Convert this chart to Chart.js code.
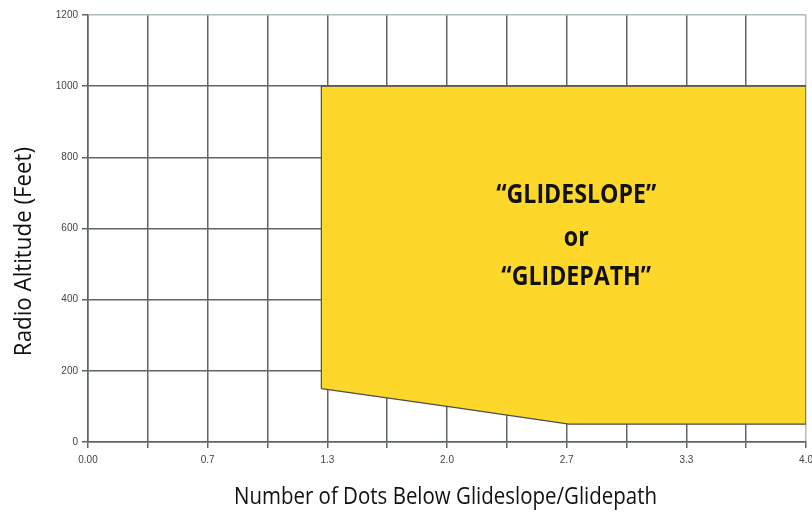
<!DOCTYPE html>
<html>
<head>
<meta charset="utf-8">
<script src="https://cdn.jsdelivr.net/npm/chart.js@4/dist/chart.umd.min.js"></script>
<style>
  html, body { margin: 0; padding: 0; background: #ffffff; }
  #wrap { width: 812px; height: 512px; }
</style>
</head>
<body>
<div id="wrap"><canvas id="chart" width="812" height="512"></canvas></div>
<script>
// Axis tick labels
const xTickLabels = ['0.00', '0.7', '1.3', '2.0', '2.7', '3.3', '4.0'];
const yTickValues = [0, 200, 400, 600, 800, 1000, 1200];

// Axis titles
const xTitle = 'Number of Dots Below Glideslope/Glidepath';
const yTitle = 'Radio Altitude (Feet)';

// Alert envelope outline (dots below glideslope, radio altitude in feet)
const envelopeDots = [1.3, 1.3, 4.0, 4.0, 2.68, 2.0, 1.3];
const envelopeFeet = [150, 1000, 1000, 50, 50, 100, 150];

// Alert message shown inside the envelope
const alertLines = ['\u201CGLIDESLOPE\u201D', 'or', '\u201CGLIDEPATH\u201D'];
const alertDots = 2.72;
const alertFeet = [672, 551, 441];

const GRID = '#5f6666';
const EDGE = '#aebcc0';

const envelopePoints = envelopeDots.map((x, i) => ({ x: x, y: envelopeFeet[i] }));

// Draws text squeezed horizontally (condensed face look)
function drawCondensed(ctx, text, x, y, squeeze) {
  ctx.save();
  ctx.translate(x, y);
  ctx.scale(squeeze, 1);
  ctx.fillText(text, 0, 0);
  ctx.restore();
}

const textLayer = {
  id: 'textLayer',
  afterDatasetsDraw(chart) {
    const { ctx, scales, chartArea } = chart;
    ctx.save();
    ctx.fillStyle = '#111111';
    ctx.textAlign = 'center';
    ctx.textBaseline = 'alphabetic';

    // message in the envelope
    ctx.font = 'bold 26px "Open Sans", sans-serif';
    const px = scales.x.getPixelForValue(alertDots);
    alertLines.forEach((t, i) => {
      drawCondensed(ctx, t, px, scales.y.getPixelForValue(alertFeet[i]), 0.89);
    });

    // x axis title
    ctx.font = '23px "Open Sans", sans-serif';
    drawCondensed(ctx, xTitle, 445.5, 504, 0.89);

    // y axis title
    ctx.save();
    ctx.translate(31, (chartArea.top + chartArea.bottom) / 2 + 23);
    ctx.rotate(-Math.PI / 2);
    drawCondensed(ctx, yTitle, 0, 0, 0.97);
    ctx.restore();

    ctx.restore();
  }
};

new Chart(document.getElementById('chart'), {
  type: 'scatter',
  data: {
    datasets: [{
      data: envelopePoints,
      showLine: true,
      fill: 'shape',
      backgroundColor: '#fdd82a',
      borderColor: '#4d4d4d',
      borderWidth: 1.2,
      pointRadius: 0,
      tension: 0
    }]
  },
  options: {
    responsive: false,
    animation: false,
    layout: { padding: { top: 15, right: 6, left: 0, bottom: 0 } },
    plugins: { legend: { display: false }, tooltip: { enabled: false } },
    scales: {
      x: {
        type: 'linear',
        min: 0,
        max: 4,
        afterBuildTicks(scale) {
          const t = [];
          for (let i = 0; i <= 12; i++) t.push({ value: i / 3 });
          scale.ticks = t;
        },
        afterFit(scale) {
          scale.height = 70;
          scale.paddingLeft = 0;
          scale.paddingRight = 0;
        },
        ticks: {
          autoSkip: false,
          maxRotation: 0,
          color: '#444444',
          font: { family: '"Liberation Sans", Arial, sans-serif', size: 10 },
          padding: 6,
          callback(value, index) {
            return index % 2 === 0 ? xTickLabels[index / 2] : '';
          }
        },
        grid: {
          color: ctx => (ctx.tick && Math.abs(ctx.tick.value - 4) < 1e-6) ? EDGE : GRID,
          lineWidth: 1.5,
          drawTicks: true,
          tickLength: 6,
          tickColor: GRID
        },
        border: { color: GRID, width: 1.5 },
        title: { display: false }
      },
      y: {
        type: 'linear',
        min: 0,
        max: 1200,
        afterBuildTicks(scale) {
          scale.ticks = yTickValues.map(v => ({ value: v }));
        },
        afterFit(scale) {
          scale.width = 88;
          scale.paddingTop = 0;
          scale.paddingBottom = 0;
        },
        ticks: {
          color: '#444444',
          font: { family: '"Liberation Sans", Arial, sans-serif', size: 10 },
          padding: 4,
          callback: v => String(v)
        },
        grid: {
          color: ctx => (ctx.tick && ctx.tick.value === 1200) ? EDGE : GRID,
          lineWidth: 1.5,
          drawTicks: true,
          tickLength: 6,
          tickColor: GRID
        },
        border: { color: GRID, width: 1.5 },
        title: { display: false }
      }
    }
  },
  plugins: [textLayer]
});
</script>
</body>
</html>
